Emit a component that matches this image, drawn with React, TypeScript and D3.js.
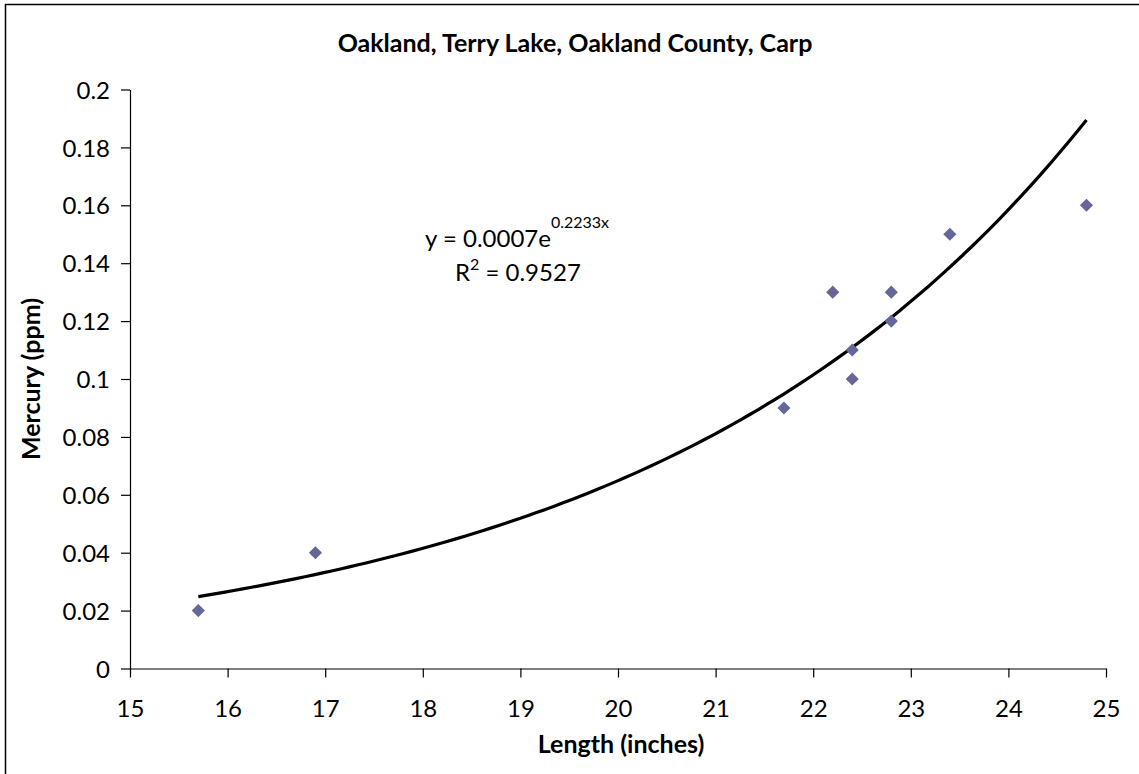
import React, { useEffect, useRef } from "react";
import * as d3 from "d3";

const lengths = [15.7, 16.9, 21.7, 22.2, 22.4, 22.4, 22.8, 22.8, 23.4, 24.8];
const mercury = [0.02, 0.04, 0.09, 0.13, 0.11, 0.1, 0.13, 0.12, 0.15, 0.16];
const xTicks = [15, 16, 17, 18, 19, 20, 21, 22, 23, 24, 25];
const yTicks = [0, 0.02, 0.04, 0.06, 0.08, 0.1, 0.12, 0.14, 0.16, 0.18, 0.2];
const title = "Oakland, Terry Lake, Oakland County, Carp";
const xLabel = "Length (inches)";
const yLabel = "Mercury (ppm)";

const W = 1139;
const H = 774;
const M = { left: 130, right: 1106, top: 89.5, bottom: 668.5 };
const FONT = "Lato, 'Open Sans', sans-serif";

export default function App() {
  const ref = useRef<SVGSVGElement>(null);

  useEffect(() => {
    const svg = d3.select(ref.current);
    svg.selectAll("*").remove();

    const x = d3.scaleLinear().domain([15, 25]).range([M.left, M.right]);
    const y = d3.scaleLinear().domain([0, 0.2]).range([M.bottom, M.top]);

    svg.append("rect").attr("x", 0).attr("y", 0).attr("width", W).attr("height", H).attr("fill", "#fff");
    svg.append("rect").attr("x", 5.5).attr("y", 4.5).attr("width", W).attr("height", H)
      .attr("fill", "none").attr("stroke", "#000").attr("stroke-width", 1.5);

    // axes
    const xAxis = svg.append("g").attr("transform", `translate(0,${M.bottom})`)
      .call(d3.axisBottom(x).tickValues(xTicks).tickSize(9).tickSizeOuter(0).tickFormat(d3.format("d")));
    xAxis.select(".domain").attr("stroke", "#000").attr("stroke-width", 1.2);
    xAxis.selectAll(".tick line").attr("stroke", "#000").attr("stroke-width", 1.2);
    xAxis.selectAll(".tick text").attr("font-family", FONT).attr("font-size", 24).attr("fill", "#000").attr("dy", "1.52em");

    const yAxis = svg.append("g").attr("transform", `translate(${M.left},0)`)
      .call(d3.axisLeft(y).tickValues(yTicks).tickSize(9).tickSizeOuter(0).tickFormat((d: any) => String(+d.toFixed(2))));
    yAxis.select(".domain").attr("stroke", "#000").attr("stroke-width", 1.2);
    yAxis.selectAll(".tick line").attr("stroke", "#000").attr("stroke-width", 1.2);
    yAxis.selectAll(".tick text").attr("font-family", FONT).attr("font-size", 24).attr("fill", "#000").attr("x", -20).attr("dy", "0.36em");

    // exponential fit from data
    const lnY = mercury.map(Math.log);
    const mx = d3.mean(lengths)!;
    const my = d3.mean(lnY)!;
    let sxy = 0, sxx = 0, syy = 0;
    lengths.forEach((v, i) => {
      sxy += (v - mx) * (lnY[i] - my);
      sxx += (v - mx) ** 2;
      syy += (lnY[i] - my) ** 2;
    });
    const b = sxy / sxx;
    const a = Math.exp(my - b * mx);
    const r2 = (sxy * sxy) / (sxx * syy);

    const xMin = d3.min(lengths)!;
    const xMax = d3.max(lengths)!;
    const pts = d3.range(0, 101).map((i) => xMin + ((xMax - xMin) * i) / 100);
    const line = d3.line<number>().x((d) => x(d)).y((d) => y(a * Math.exp(b * d)));
    svg.append("path").datum(pts).attr("d", line).attr("fill", "none").attr("stroke", "#000").attr("stroke-width", 3.2);

    // points
    const sym = d3.symbol().type(d3.symbolDiamond2).size(110);
    svg.append("g").selectAll("path").data(lengths).join("path")
      .attr("d", sym as any)
      .attr("transform", (d, i) => `translate(${x(d)},${y(mercury[i])})`)
      .attr("fill", "#666699");

    // equation
    const eq = svg.append("text").attr("x", 425).attr("y", 247).attr("font-family", FONT).attr("font-size", 24).attr("fill", "#000");
    eq.append("tspan").text(`y = ${a.toFixed(4)}e`);
    eq.append("tspan").attr("font-size", 16).attr("dy", -19).text(`${b.toFixed(4)}x`);
    const r = svg.append("text").attr("x", 455).attr("y", 281).attr("font-family", FONT).attr("font-size", 24).attr("fill", "#000");
    r.append("tspan").text("R");
    r.append("tspan").attr("font-size", 16).attr("dy", -11).text("2");
    r.append("tspan").attr("dy", 11).text(` = ${r2.toFixed(4)}`);

    // titles
    svg.append("text").attr("x", 575).attr("y", 52).attr("text-anchor", "middle").attr("font-family", FONT)
      .attr("font-weight", "bold").attr("font-size", 25).attr("fill", "#000").text(title);
    svg.append("text").attr("x", 621).attr("y", 753).attr("text-anchor", "middle").attr("font-family", FONT)
      .attr("font-weight", "bold").attr("font-size", 25).attr("fill", "#000").text(xLabel);
    svg.append("text").attr("transform", `translate(40,${(M.top + M.bottom) / 2}) rotate(-90)`).attr("text-anchor", "middle")
      .attr("font-family", FONT).attr("font-weight", "bold").attr("font-size", 25).attr("fill", "#000").text(yLabel);
  }, []);

  return <svg ref={ref} width={W} height={H} style={{ display: "block", position: "absolute", left: 0, top: 0 }} />;
}
